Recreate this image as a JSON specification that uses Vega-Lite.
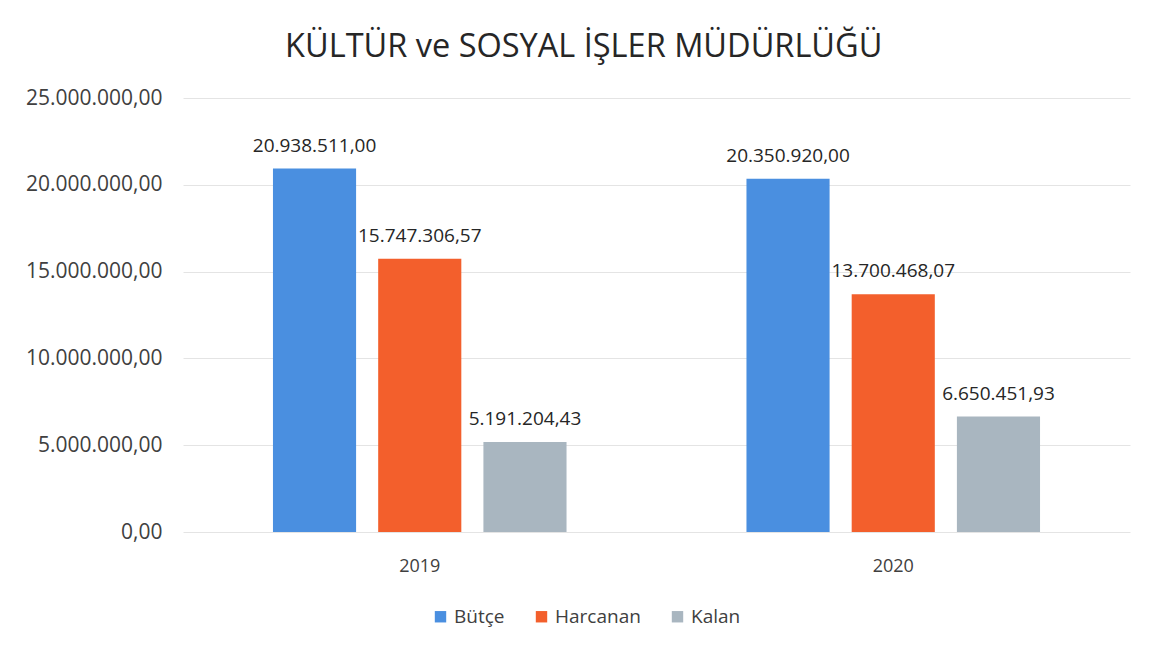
{
  "$schema": "https://vega.github.io/schema/vega-lite/v6.json",
  "width": 947,
  "height": 434,
  "padding": {"left": 25, "top": 30, "right": 20, "bottom": 20},
  "background": "white",
  "title": {
    "text": "KÜLTÜR ve SOSYAL İŞLER MÜDÜRLÜĞÜ",
    "fontSize": 32.5,
    "font": "Open Sans",
    "fontWeight": "normal",
    "color": "#262626",
    "offset": 24,
    "anchor": "middle",
    "frame": "bounds",
    "dx": 6
  },
  "data": {
    "values": [
      {"year": "2019", "series": "Bütçe", "value": 20938511.00},
      {"year": "2019", "series": "Harcanan", "value": 15747306.57},
      {"year": "2019", "series": "Kalan", "value": 5191204.43},
      {"year": "2020", "series": "Bütçe", "value": 20350920.00},
      {"year": "2020", "series": "Harcanan", "value": 13700468.07},
      {"year": "2020", "series": "Kalan", "value": 6650451.93}
    ]
  },
  "encoding": {
    "x": {
      "field": "year",
      "type": "nominal",
      "scale": {"paddingInner": 0.38, "paddingOuter": 0.19},
      "axis": {
        "title": null,
        "labelAngle": 0,
        "domain": false,
        "ticks": false,
        "labelPadding": 25,
        "labelFontSize": 18,
        "labelColor": "#404040",
        "labelFont": "Open Sans"
      }
    },
    "xOffset": {
      "field": "series",
      "type": "nominal",
      "sort": ["Bütçe", "Harcanan", "Kalan"],
      "scale": {"paddingInner": 0.21, "paddingOuter": 0}
    },
    "y": {
      "field": "value",
      "type": "quantitative",
      "scale": {"domain": [0, 25000000]},
      "axis": {
        "title": null,
        "values": [0, 5000000, 10000000, 15000000, 20000000, 25000000],
        "format": ",.2f",
        "domain": false,
        "ticks": false,
        "labelPadding": 21,
        "labelFontSize": 21,
        "labelColor": "#404040",
        "labelFont": "Open Sans",
        "gridColor": "#e4e4e4",
        "gridWidth": 1
      }
    }
  },
  "layer": [
    {
      "mark": {"type": "bar"},
      "encoding": {
        "color": {
          "field": "series",
          "type": "nominal",
          "scale": {
            "domain": ["Bütçe", "Harcanan", "Kalan"],
            "range": ["#4a8fe0", "#f35f2c", "#a9b6c0"]
          },
          "legend": {
            "title": null,
            "orient": "none",
            "legendX": 248,
            "legendY": 509,
            "direction": "horizontal",
            "symbolType": "square",
            "symbolSize": 130,
            "symbolStrokeWidth": 0,
            "labelFontSize": 19,
            "labelFont": "Open Sans",
            "labelColor": "#404040",
            "columnPadding": 27
          }
        }
      }
    },
    {
      "mark": {
        "type": "text",
        "baseline": "alphabetic",
        "dy": -17,
        "fontSize": 19,
        "font": "Open Sans",
        "color": "#262626"
      },
      "encoding": {
        "text": {"field": "value", "type": "quantitative", "format": ",.2f"}
      }
    }
  ],
  "config": {
    "locale": {
      "number": {"decimal": ",", "thousands": ".", "grouping": [3], "currency": ["", " TL"]}
    },
    "view": {"stroke": null}
  }
}
